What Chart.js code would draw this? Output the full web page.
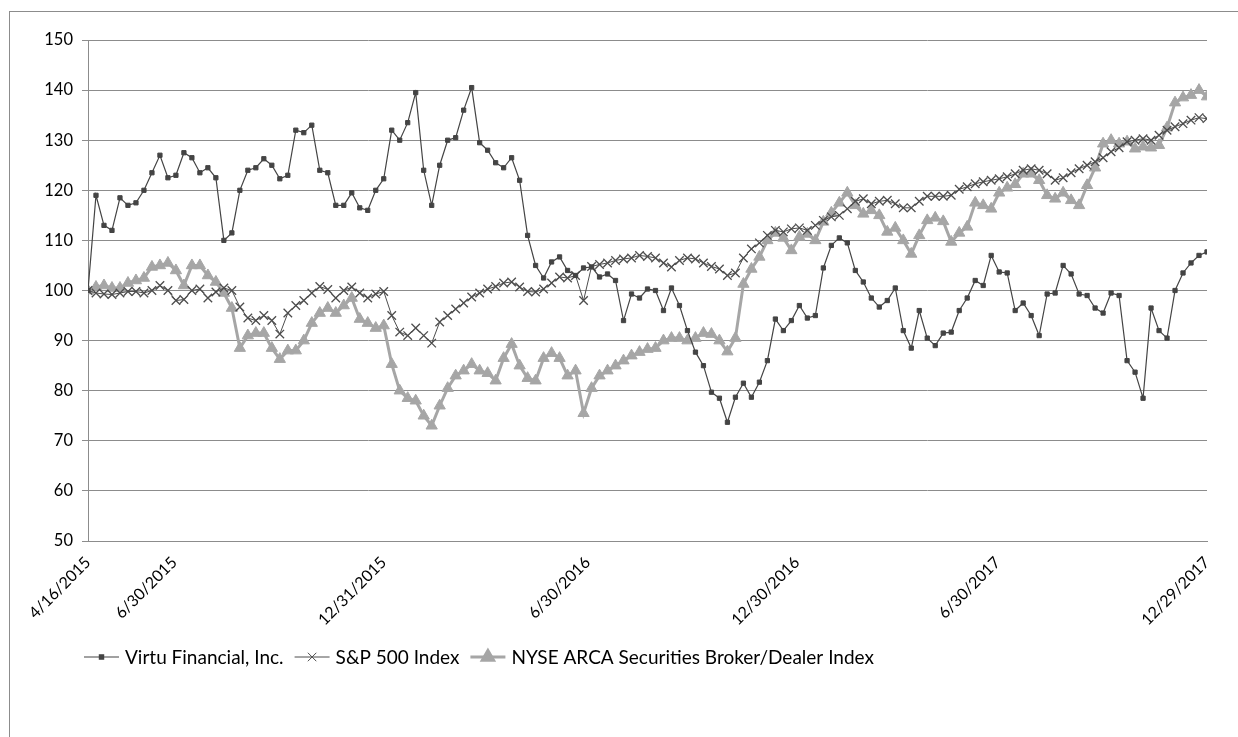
<!DOCTYPE html>
<html>
<head>
<meta charset="utf-8">
<title>Virtu Financial total return comparison</title>
<script src="https://cdn.jsdelivr.net/npm/chart.js@4.4.1/dist/chart.umd.min.js"></script>
<style>
  html, body { margin: 0; padding: 0; background: #fff; overflow: hidden; }
  #frame { position: absolute; left: 9px; top: 11px; width: 1260px; height: 760px; border: 1px solid #8c8c8c; }
  #wrap { position: absolute; left: 0; top: 0; width: 1238px; height: 737px; }
</style>
</head>
<body>
<div id="frame"></div>
<div id="wrap"><canvas id="chart" width="1238" height="737"></canvas></div>
<script>
// values, one sample roughly every 5 trading days (4/16/2015 .. 12/29/2017)
const virtu = [
  100, 119, 113, 112, 118.5, 117, 117.5, 120, 123.5, 127, 122.5,
  123, 127.5, 126.5, 123.5, 124.5, 122.5, 110, 111.5, 120, 124,
  124.5, 126.3, 125, 122.3, 123, 132, 131.5, 133, 124, 123.5,
  117, 117, 119.5, 116.5, 116, 120, 122.3, 132, 130, 133.5,
  139.5, 124, 117, 125, 130, 130.5, 136, 140.5, 129.5, 128,
  125.5, 124.5, 126.5, 122, 111, 105, 102.5, 105.7, 106.7, 104,
  103, 104.5, 104.7, 102.7, 103.3, 102, 94, 99.3, 98.5, 100.3,
  100, 96, 100.5, 97, 92, 87.7, 85, 79.7, 78.5, 73.7,
  78.7, 81.5, 78.7, 81.7, 86, 94.3, 92, 94, 97, 94.5,
  95, 104.5, 109, 110.5, 109.5, 104, 101.7, 98.5, 96.7, 98,
  100.5, 92, 88.5, 96, 90.5, 89, 91.5, 91.7, 96, 98.5,
  102, 101, 107, 103.7, 103.5, 96, 97.5, 95, 91, 99.3,
  99.5, 105, 103.3, 99.3, 99, 96.5, 95.5, 99.5, 99, 86,
  83.7, 78.5, 96.5, 92, 90.5, 100, 103.5, 105.5, 107, 107.7
];
const sp500 = [
  100, 99.5, 99.3, 99.2, 99.5, 99.8, 99.8, 99.5, 100, 101, 100,
  98, 98.2, 100, 100.3, 98.5, 99.7, 100.5, 100, 96.7, 94.5,
  94, 95, 94, 91.3, 95.5, 97, 98, 99.5, 100.8, 100.2,
  98.5, 100, 100.7, 99.5, 98.5, 99.3, 99.8, 95, 91.7, 91,
  92.5, 91, 89.5, 93.7, 95, 96.3, 97.5, 98.7, 99.5, 100.3,
  100.8, 101.5, 101.7, 100.7, 99.8, 99.7, 100.3, 101.5, 102.7, 102.5,
  103, 98, 104.8, 105.2, 105.5, 106, 106.3, 106.5, 107, 106.8,
  106.5, 105.5, 104.7, 106, 106.5, 106.3, 105.5, 104.8, 104.3, 103,
  103.5, 106.5, 108.3, 109.5, 111, 112, 111.7, 112.3, 112.5, 112,
  113, 114, 114.7, 115, 116.3, 117.8, 118.3, 117.3, 117.8, 118,
  117.3, 116.5, 116.5, 117.8, 118.8, 118.8, 118.8, 119, 120.2, 120.7,
  121.3, 121.7, 122, 122.3, 122.7, 123.3, 124, 124.3, 124, 123.3,
  122, 122.5, 123.5, 124.3, 125, 125.7, 126.5, 127.7, 128.5, 129.7,
  130, 130.3, 130, 131, 132, 132.7, 133.3, 134, 134.5, 134.3
];
const nyseArca = [
  100, 100.7, 101, 100.5, 100.5, 101.5, 102, 102.5, 104.7, 105, 105.5,
  104, 101, 105, 105, 103, 101.7, 99.5, 96.5, 88.5, 91,
  91.5, 91.5, 88.5, 86.3, 88, 88, 90, 93.5, 95.5, 96.5,
  95.5, 97, 98.5, 94.3, 93.5, 92.5, 93, 85.3, 80, 78.5,
  78, 75, 73, 77, 80.5, 83, 84, 85.3, 84, 83.5,
  82, 86.5, 89.3, 85, 82.5, 82, 86.5, 87.5, 86.5, 83,
  84, 75.5, 80.5, 83, 84, 85, 86, 87, 87.7, 88.3,
  88.5, 90, 90.5, 90.5, 90, 90.5, 91.5, 91.3, 90, 87.8,
  90.5, 101.3, 104.3, 106.7, 110, 111.5, 110.5, 108, 110.7, 111.3,
  110, 113.7, 115.5, 117.5, 119.5, 117, 115.3, 116, 115, 111.7,
  112.5, 110, 107.3, 111, 114, 114.5, 113.8, 109.7, 111.5, 112.7,
  117.5, 117, 116.3, 119.5, 120.5, 121.2, 123.3, 123.3, 122, 119,
  118.3, 119.5, 118, 117, 121, 124.5, 129.3, 130, 129.3, 129.7,
  128.3, 128.7, 128.5, 129, 132.5, 137.5, 138.5, 139, 140, 138.7
];
const seriesNames = ['Virtu Financial, Inc.', 'S&P 500 Index', 'NYSE ARCA Securities Broker/Dealer Index'];
const tickLabels = ['4/16/2015', '6/30/2015', '12/31/2015', '6/30/2016', '12/30/2016', '6/30/2017', '12/29/2017'];
const tickAt = [0, 10.8, 37, 62.5, 88.7, 113.8, 140]; // sample index of each labelled date

const FONT = 'Lato, "Liberation Sans", sans-serif';
const toPoints = arr => arr.map((y, i) => ({ x: i, y }));

// Excel-style legend: short line with the marker in the middle, then the name
const xlLegend = {
  id: 'xlLegend',
  afterDraw(chart) {
    const ctx = chart.ctx;
    let x = 84;
    const y = 657;
    ctx.save();
    ctx.font = '19px ' + FONT;
    ctx.textBaseline = 'middle';
    chart.data.datasets.forEach(ds => {
      ctx.strokeStyle = ds.borderColor;
      ctx.lineWidth = ds.borderWidth;
      ctx.beginPath(); ctx.moveTo(x, y); ctx.lineTo(x + 35, y); ctx.stroke();
      ctx.fillStyle = ds.pointBackgroundColor;
      ctx.strokeStyle = ds.pointBorderColor;
      Chart.helpers.drawPoint(ctx, {
        pointStyle: ds.pointStyle, radius: ds.pointRadius,
        borderWidth: ds.pointBorderWidth, rotation: 0
      }, x + 17.5, y);
      ctx.fillStyle = '#000';
      ctx.fillText(ds.label, x + 41, y + 1);
      x += 41 + ctx.measureText(ds.label).width + 11;
    });
    ctx.restore();
  }
};

new Chart(document.getElementById('chart'), {
  type: 'line',
  data: {
    datasets: [
      {
        label: seriesNames[0], data: toPoints(virtu),
        borderColor: '#444', borderWidth: 1.2,
        pointStyle: 'rect', pointRadius: 3, pointBorderWidth: 1,
        pointBackgroundColor: '#444', pointBorderColor: '#444'
      },
      {
        label: seriesNames[1], data: toPoints(sp500),
        borderColor: '#4d4d4d', borderWidth: 1,
        pointStyle: 'crossRot', pointRadius: 6, pointBorderWidth: 1.3,
        pointBackgroundColor: '#4d4d4d', pointBorderColor: '#4d4d4d'
      },
      {
        label: seriesNames[2], data: toPoints(nyseArca),
        borderColor: '#a6a6a6', borderWidth: 3,
        pointStyle: 'triangle', pointRadius: 6.5, pointBorderWidth: 1,
        pointBackgroundColor: '#a6a6a6', pointBorderColor: '#a6a6a6'
      }
    ]
  },
  options: {
    responsive: false,
    animation: false,
    layout: { padding: { top: 40, right: 31, left: 0, bottom: 0 } },
    plugins: { legend: { display: false }, tooltip: { enabled: false } },
    elements: { line: { tension: 0 } },
    scales: {
      x: {
        type: 'linear', min: 0, max: 140,
        afterBuildTicks: s => { s.ticks = tickAt.map(v => ({ value: v })); },
        afterFit: s => { s.height = 196; },
        grid: { display: false },
        border: { display: true, color: '#8c8c8c', width: 1 },
        ticks: {
          autoSkip: false, minRotation: 45, maxRotation: 45, padding: 4,
          color: '#000', font: { family: FONT, size: 16 },
          callback: (v, i) => tickLabels[i]
        }
      },
      y: {
        min: 50, max: 150,
        afterFit: s => { s.width = 88; },
        grid: { color: '#8c8c8c', lineWidth: 1, tickLength: 6 },
        border: { display: true, color: '#8c8c8c', width: 1 },
        ticks: { stepSize: 10, padding: 9, color: '#000', font: { family: FONT, size: 16.5 } }
      }
    }
  },
  plugins: [xlLegend]
});
</script>
</body>
</html>
